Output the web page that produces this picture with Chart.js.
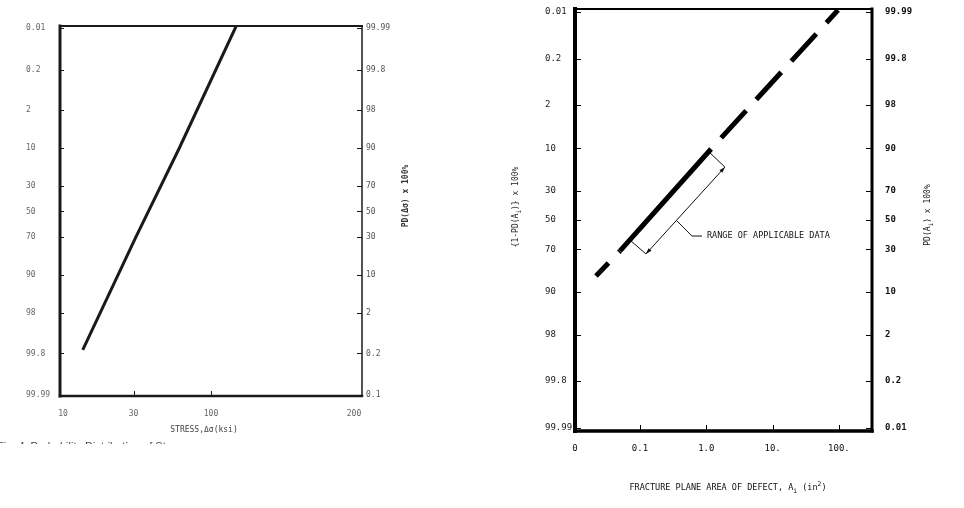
<!DOCTYPE html>
<html><head><meta charset="utf-8">
<script src="https://cdn.jsdelivr.net/npm/chart.js@4/dist/chart.umd.min.js"></script>
<style>
html,body{margin:0;padding:0;background:#fff;}
body{width:964px;height:508px;overflow:hidden;position:relative;}
#ca{position:absolute;left:0;top:0;}
#cb{position:absolute;left:482px;top:0;}
</style>
</head><body>
<canvas id="ca" width="482" height="508"></canvas>
<canvas id="cb" width="482" height="508"></canvas>
<script>
// ---------- data ----------
const probTicks = [0.01, 0.2, 2, 10, 30, 50, 70, 90, 98, 99.8, 99.99];
const probLabelsLeft = ['0.01','0.2','2','10','30','50','70','90','98','99.8','99.99'];
// left figure (stress)
const stressRightLabels = ['99.99','99.8','98','90','70','50','30','10','2','0.2','0.1'];
const stressTickValues = [10, 30, 100, 925];
const stressTickLabels = ['10','30','100','200'];
const stressValues = [13.6, 31, 61, 148];
const stressProb = [99.75, 70, 10, 0.0085];
// right figure (defect area)
const areaRightLabels = ['99.99','99.8','98','90','70','50','30','10','2','0.2','0.01'];
const areaTickValues = [0.01047, 0.1, 1, 10, 100];
const areaTickLabels = ['0','0.1','1.0','10.','100.'];
const areaValues = [0.0217, 0.05, 1.18, 97];
const areaProb = [84.2, 71, 10.2, 0.0087];
const bracketArea = [0.0731, 0.123, 1.91, 1.10];
const bracketProb = [64.6, 72.8, 17.2, 11.2];
const leaderArea = [0.361, 0.608, 0.861];
const leaderProb = [50.7, 61.3, 61.3];
const rangeText = 'RANGE OF APPLICABLE DATA';

// inverse normal CDF (probability paper scale)
function probit(p){
 const a=[-3.969683028665376e+01,2.209460984245205e+02,-2.759285104469687e+02,1.383577518672690e+02,-3.066479806614716e+01,2.506628277459239e+00];
 const b=[-5.447609879822406e+01,1.615858368580409e+02,-1.556989798598866e+02,6.680131188771972e+01,-1.328068155288572e+01];
 const c=[-7.784894002430293e-03,-3.223964580411365e-01,-2.400758277161838e+00,-2.549732539343734e+00,4.374664141464968e+00,2.938163982698783e+00];
 const d=[7.784695709041462e-03,3.224671290700398e-01,2.445134137142996e+00,3.754408661907416e+00];
 const pl=0.02425, ph=1-pl; let q,r;
 if(p<pl){q=Math.sqrt(-2*Math.log(p));return (((((c[0]*q+c[1])*q+c[2])*q+c[3])*q+c[4])*q+c[5])/((((d[0]*q+d[1])*q+d[2])*q+d[3])*q+1);}
 if(p>ph){q=Math.sqrt(-2*Math.log(1-p));return -(((((c[0]*q+c[1])*q+c[2])*q+c[3])*q+c[4])*q+c[5])/((((d[0]*q+d[1])*q+d[2])*q+d[3])*q+1);}
 q=p-0.5;r=q*q;return (((((a[0]*r+a[1])*r+a[2])*r+a[3])*r+a[4])*r+a[5])*q/(((((b[0]*r+b[1])*r+b[2])*r+b[3])*r+b[4])*r+1);
}
const pts = (xs, ps) => xs.map((v,i)=>({x:v, y:probit(ps[i]/100)}));
const MONO = "'DejaVu Sans Mono', 'Liberation Mono', monospace";

function zeroPad(s){ s.paddingTop = 0; s.paddingBottom = 0; s.paddingLeft = 0; s.paddingRight = 0; }

function probAxis(position, labels, min, max, width, font, color, padding, crossAlign){
  return {
    type:'linear', position, reverse:true, min, max,
    afterBuildTicks: s => { s.ticks = probTicks.map(p => ({value: probit(p/100)})); },
    afterFit: s => { s.width = width; zeroPad(s); },
    ticks:{autoSkip:false, font, color, padding, crossAlign, callback:(v,i)=>labels[i]},
    grid:{display:false, drawTicks:false}, border:{display:false}
  };
}

function line(ctx,x1,y1,x2,y2){ctx.beginPath();ctx.moveTo(x1,y1);ctx.lineTo(x2,y2);ctx.stroke();}

function drawRuns(ctx, runs, cx, cy, rot, size, weight, color){
  ctx.save();
  ctx.translate(cx, cy); ctx.rotate(rot);
  ctx.fillStyle = color; ctx.textBaseline = 'alphabetic'; ctx.textAlign = 'left';
  const fontOf = r => (weight||'normal') + ' ' + (r.s ? size*0.75 : size) + 'px ' + MONO;
  let total = 0;
  runs.forEach(r => { ctx.font = fontOf(r); total += ctx.measureText(r.t).width; });
  let x = -total/2; const base = size*0.36;
  runs.forEach(r => {
    ctx.font = fontOf(r);
    const dy = r.s === 'sub' ? size*0.35 : (r.s === 'sup' ? -size*0.45 : 0);
    ctx.fillText(r.t, x, base + dy);
    x += ctx.measureText(r.t).width;
  });
  ctx.restore();
}

function framePlugin(cfg){
  return {id:'frame', afterDraw(chart){
    const {ctx, chartArea:a} = chart; const ys = chart.scales.y, xs = chart.scales.x;
    ctx.save(); ctx.strokeStyle = cfg.color; ctx.lineWidth = 1;
    probTicks.forEach(p => { const y = Math.round(ys.getPixelForValue(probit(p/100)))+0.5;
      line(ctx, a.left, y, a.left+cfg.tl, y); line(ctx, a.right-cfg.tr, y, a.right, y); });
    cfg.xTicks.forEach(v => { const x = Math.round(xs.getPixelForValue(v))+0.5; line(ctx, x, a.bottom-cfg.tb, x, a.bottom); });
    ctx.lineCap = 'square';
    ctx.lineWidth = cfg.wTop; line(ctx, a.left, a.top, a.right, a.top);
    ctx.lineWidth = cfg.wRight; line(ctx, a.right, a.top, a.right, a.bottom);
    ctx.lineWidth = cfg.wBottom; line(ctx, a.left, a.bottom, a.right, a.bottom);
    ctx.lineWidth = cfg.wLeft; line(ctx, a.left, a.top, a.left, a.bottom);
    ctx.restore();
    if (cfg.extra) cfg.extra(chart);
  }};
}

// ---------- left figure ----------
const fontA = {family: MONO, size: 8};
new Chart(document.getElementById('ca'), {
  type:'line',
  data:{datasets:[{data: pts(stressValues, stressProb), borderColor:'#1a1a1a', borderWidth:3, pointRadius:0, tension:0, xAxisID:'x', yAxisID:'y'}]},
  options:{
    responsive:false, animation:false, events:[],
    layout:{padding:{left:26, top:26, right:0, bottom:0}},
    plugins:{legend:{display:false}, tooltip:{enabled:false}},
    scales:{
      x:{type:'logarithmic', position:'bottom', min:9.544, max:1047.9,
         afterBuildTicks: s => { s.ticks = stressTickValues.map(v=>({value:v})); },
         afterFit: s => { s.height = 112; zeroPad(s); },
         ticks:{autoSkip:false, maxRotation:0, padding:13, font:fontA, color:'#666', callback:(v,i)=>stressTickLabels[i]},
         grid:{display:false, drawTicks:false}, border:{display:false}},
      y: probAxis('left', probLabelsLeft, -3.76, 3.74, 34, fontA, '#666', 0, 'far'),
      y2: probAxis('right', stressRightLabels, -3.76, 3.74, 120, fontA, '#555', 4, 'near')
    }
  },
  plugins:[framePlugin({color:'#1a1a1a', tl:4, tr:5, tb:5, xTicks:[30,100], wTop:2, wRight:1.5, wBottom:2.5, wLeft:3,
    extra(chart){
      const ctx = chart.ctx;
      drawRuns(ctx, [{t:'STRESS,\u0394\u03c3(ksi)'}], 204, 429, 0, 8, 'normal', '#444');
      drawRuns(ctx, [{t:'PD(\u0394\u03c3) x 100%'}], 405, 196, -Math.PI/2, 8, 'bold', '#333');
      ctx.save(); ctx.beginPath(); ctx.rect(0, 441, 180, 3); ctx.clip();
      ctx.fillStyle = '#444'; ctx.font = '11px ' + "'Liberation Sans', Arial, sans-serif"; ctx.textBaseline='alphabetic';
      ctx.fillText('Fig. 4  Probability Distribution of Stress', -3, 450);
      ctx.restore();
    }})]
});

// ---------- right figure ----------
const fontB = {family: MONO, size: 9};
new Chart(document.getElementById('cb'), {
  type:'line',
  data:{datasets:[
    {data: pts(areaValues, areaProb), borderColor:'#000', borderWidth:5, borderCapStyle:'butt', pointRadius:0, tension:0,
     segment:{
       borderDash: c => c.p0DataIndex === 1 ? [] : [37,15],
       borderDashOffset: c => c.p0DataIndex === 0 ? 19 : (c.p0DataIndex === 2 ? 37 : 0)
     }},
    {data: pts(bracketArea, bracketProb), borderColor:'#111', borderWidth:1, pointRadius:0, tension:0},
    {data: pts(leaderArea, leaderProb), borderColor:'#111', borderWidth:1, pointRadius:0, tension:0}
  ]},
  options:{
    responsive:false, animation:false, events:[],
    layout:{padding:{left:63, top:9, right:0, bottom:0}},
    plugins:{legend:{display:false}, tooltip:{enabled:false}},
    scales:{
      x:{type:'logarithmic', position:'bottom', min:0.01047, max:315.4,
         afterBuildTicks: s => { s.ticks = areaTickValues.map(v=>({value:v})); },
         afterFit: s => { s.height = 77; zeroPad(s); },
         ticks:{autoSkip:false, maxRotation:0, padding:12, font:fontB, color:'#111', callback:(v,i)=>areaTickLabels[i]},
         grid:{display:false, drawTicks:false}, border:{display:false}},
      y: probAxis('left', probLabelsLeft, -3.773, 3.773, 30, fontB, '#1a1a1a', 0, 'far'),
      y2: probAxis('right', areaRightLabels, -3.773, 3.773, 92, {family: MONO, size: 9, weight: 'bold'}, '#111', 13, 'near')
    }
  },
  plugins:[framePlugin({color:'#000', tl:6, tr:6, tb:6, xTicks:[0.1,1,10,100], wTop:2, wRight:3, wBottom:3.5, wLeft:4,
    extra(chart){
      const ctx = chart.ctx;
      // arrowheads on the bracket
      const m = chart.getDatasetMeta(1).data;
      const arrow = (tip, from) => {
        const ang = Math.atan2(tip.y-from.y, tip.x-from.x), L=6, W=2;
        ctx.save(); ctx.fillStyle='#111'; ctx.translate(tip.x, tip.y); ctx.rotate(ang);
        ctx.beginPath(); ctx.moveTo(0,0); ctx.lineTo(-L,-W); ctx.lineTo(-L,W); ctx.closePath(); ctx.fill(); ctx.restore();
      };
      arrow(m[1], m[2]); arrow(m[2], m[1]);
      // annotation text
      const lm = chart.getDatasetMeta(2).data; const end = lm[lm.length-1];
      ctx.save(); ctx.fillStyle='#111'; ctx.font = '8.5px ' + MONO; ctx.textBaseline='middle'; ctx.textAlign='left';
      ctx.fillText(rangeText, end.x + 5, end.y); ctx.restore();
      // titles
      drawRuns(ctx, [{t:'FRACTURE PLANE AREA OF DEFECT, A'},{t:'i',s:'sub'},{t:' (in'},{t:'2',s:'sup'},{t:')'}], 246, 487, 0, 8.5, 'normal', '#111');
      drawRuns(ctx, [{t:'{1-PD(A'},{t:'i',s:'sub'},{t:')} x 100%'}], 33, 207, -Math.PI/2, 8, 'normal', '#222');
      drawRuns(ctx, [{t:'PD(A'},{t:'i',s:'sub'},{t:') x 100%'}], 445, 215, -Math.PI/2, 8, 'normal', '#111');
    }})]
});
</script>
</body></html>
